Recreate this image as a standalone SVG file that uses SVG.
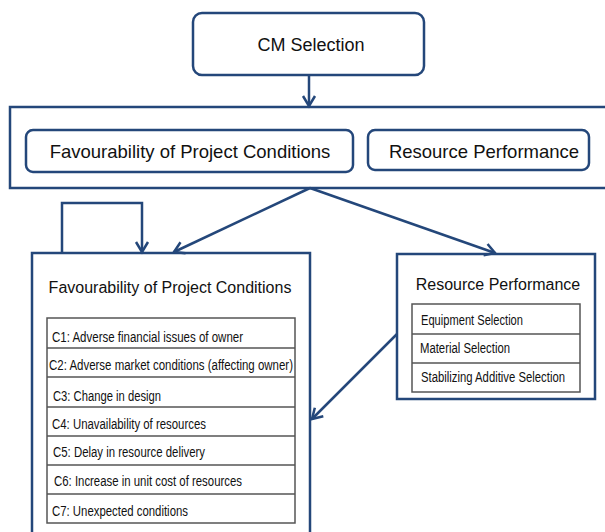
<svg xmlns="http://www.w3.org/2000/svg" width="605" height="532" viewBox="0 0 605 532">
<style>
.box{fill:#fff;stroke:#24477a;stroke-width:2.5}
.conn{fill:none;stroke:#24477a;stroke-width:2.5}
.tbl{fill:#fff;stroke:#555;stroke-width:1.5}
.t{font-family:"Liberation Sans",Arial,sans-serif;fill:#111}
.big{font-size:18.5px}
.mid{font-size:16px}
.sm{font-size:14px}
</style>
<defs>
<marker id="ah" markerUnits="userSpaceOnUse" markerWidth="16" markerHeight="16" refX="11" refY="7" orient="auto" viewBox="0 0 16 14">
<path d="M1,1 L11,7 L1,13" fill="none" stroke="#24477a" stroke-width="2.5"/>
</marker>
</defs>
<g id="outer">
<rect class="box" x="10" y="107" width="605" height="81"/>
</g>
<g id="cm-selection">
<rect class="box" x="193" y="13" width="231" height="62" rx="9"/>
<text class="t" x="311" y="51" font-size="18" text-anchor="middle">CM Selection</text>
</g>
<g id="fav-top">
<rect class="box" x="26" y="130" width="327" height="42" rx="7"/>
<text class="t big" x="190" y="158" text-anchor="middle">Favourability of Project Conditions</text>
</g>
<g id="rp-top">
<rect class="box" x="368" y="130" width="221" height="40" rx="7"/>
<text class="t big" x="484" y="158" text-anchor="middle">Resource Performance</text>
</g>
<g id="fav-detail">
<rect class="box" x="32" y="253" width="278" height="290"/>
<text class="t mid" x="170" y="293" text-anchor="middle">Favourability of Project Conditions</text>
<rect class="tbl" x="47" y="318" width="248" height="205"/>
<line class="tbl" x1="47" y1="348" x2="295" y2="348"/>
<line class="tbl" x1="47" y1="377" x2="295" y2="377"/>
<line class="tbl" x1="47" y1="407" x2="295" y2="407"/>
<line class="tbl" x1="47" y1="436" x2="295" y2="436"/>
<line class="tbl" x1="47" y1="465" x2="295" y2="465"/>
<line class="tbl" x1="47" y1="494" x2="295" y2="494"/>
<text class="t sm" x="52" y="342" textLength="191" lengthAdjust="spacingAndGlyphs">C1: Adverse financial issues of owner</text>
<text class="t sm" x="49" y="370" textLength="244" lengthAdjust="spacingAndGlyphs">C2: Adverse market conditions (affecting owner)</text>
<text class="t sm" x="53" y="401" textLength="108" lengthAdjust="spacingAndGlyphs">C3: Change in design</text>
<text class="t sm" x="52" y="429" textLength="154" lengthAdjust="spacingAndGlyphs">C4: Unavailability of resources</text>
<text class="t sm" x="53" y="457" textLength="152" lengthAdjust="spacingAndGlyphs">C5: Delay in resource delivery</text>
<text class="t sm" x="54" y="486" textLength="188" lengthAdjust="spacingAndGlyphs">C6: Increase in unit cost of resources</text>
<text class="t sm" x="52" y="516" textLength="136" lengthAdjust="spacingAndGlyphs">C7: Unexpected conditions</text>
</g>
<g id="rp-detail">
<rect class="box" x="397" y="254" width="198" height="145"/>
<text class="t mid" x="498" y="290" text-anchor="middle">Resource Performance</text>
<rect class="tbl" x="412" y="304" width="168" height="88"/>
<line class="tbl" x1="412" y1="334" x2="580" y2="334"/>
<line class="tbl" x1="412" y1="363" x2="580" y2="363"/>
<text class="t sm" x="421" y="325" textLength="102" lengthAdjust="spacingAndGlyphs">Equipment Selection</text>
<text class="t sm" x="420" y="353" textLength="90" lengthAdjust="spacingAndGlyphs">Material Selection</text>
<text class="t sm" x="421" y="382" textLength="144" lengthAdjust="spacingAndGlyphs">Stabilizing Additive Selection</text>
</g>
<g id="connectors">
<line class="conn" x1="309" y1="75" x2="309" y2="106" marker-end="url(#ah)"/>
<line class="conn" x1="310" y1="188" x2="174" y2="252" marker-end="url(#ah)"/>
<line class="conn" x1="310" y1="188" x2="495" y2="253" marker-end="url(#ah)"/>
<polyline class="conn" points="62,253 62,203 142,203 142,252" marker-end="url(#ah)"/>
<line class="conn" x1="397" y1="334" x2="312" y2="419" marker-end="url(#ah)"/>
</g>
</svg>
